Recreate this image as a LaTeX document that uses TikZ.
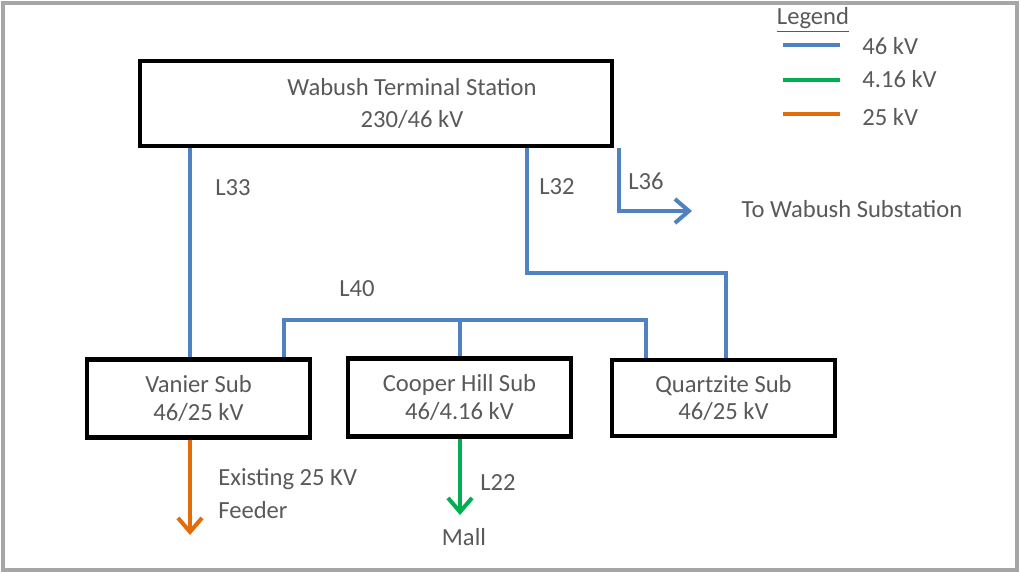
\documentclass[tikz,border=0pt]{standalone}
\usepackage{fontspec}
\setmainfont{Carlito}
\usetikzlibrary{arrows.meta,positioning,calc}
\definecolor{line46}{HTML}{5081C0}
\definecolor{line416}{HTML}{00B050}
\definecolor{line25}{HTML}{E36C0A}
\definecolor{txtgray}{HTML}{595959}
\definecolor{framegray}{HTML}{A6A6A6}

\begin{document}
\begin{tikzpicture}[>={Straight Barb[length=2.8mm,width=4.8mm]},
    font=\fontsize{14}{15.4}\selectfont, text=txtgray,
    station/.style={rectangle, draw=black, line width=2.4pt, fill=white, minimum width=4.46cm, minimum height=1.56cm, align=center},
    kv46/.style={line width=2.3pt, line46},
    kv416/.style={line width=2.3pt, line416},
    kv25/.style={line width=2.3pt, line25},
    tag/.style={inner sep=0pt}]
      \useasboundingbox (0,0) rectangle (20.4,-11.46);
      % Frame
      \draw[framegray, line width=2pt] (0.06,-0.06) rectangle (20.34,-11.4);

      % Terminal station
      \node[station, minimum width=9.44cm, minimum height=1.7cm, label={[xshift=0.72cm, align=center, font=\fontsize{14}{18.4}\selectfont, text=txtgray]center:Wabush Terminal Station\\230/46 kV}] (terminal) at (7.52,-2.07) {};

      % Substations
      \node[station] (vanier) at (3.97,-7.97) {Vanier Sub\\46/25 kV};
      \node[station] (cooper) at (9.19,-7.95) {Cooper Hill Sub\\46/4.16 kV};
      \node[station, minimum height=1.52cm] (quartzite) at (14.47,-7.96) {Quartzite Sub\\46/25 kV};

      % Bends and free ends
      \coordinate (l32a) at (10.54,-5.46);
      \coordinate (l32b) at (14.52,-5.46);
      \coordinate (l36a) at (12.38,-4.22);
      \coordinate (l36end) at (13.84,-4.22);
      \coordinate (l40a) at (5.68,-6.4);
      \coordinate (l40b) at (9.2,-6.4);
      \coordinate (l40c) at (12.92,-6.4);
      \coordinate (feederend) at (3.8,-10.7);
      \coordinate (mallend) at (9.2,-10.3);

      % 46 kV lines
      \draw[kv46] (terminal.south -| 3.8,0) -- (vanier.north -| 3.8,0);
      \draw[kv46] (terminal.south -| l32a) -- (l32a) -- (l32b) -- (quartzite.north -| l32b);
      \draw[kv46, ->] (terminal.south -| l36a) -- (l36a) -- (l36end);
      \draw[kv46] (vanier.north -| l40a) -- (l40a) -- (l40c) -- (quartzite.north -| l40c);
      \draw[kv46] (l40b) -- (cooper.north -| l40b);

      % Feeders
      \draw[kv25, ->] (vanier.south -| feederend) -- (feederend);
      \draw[kv416, ->] (cooper.south -| mallend) -- (mallend);

      % Line labels
      \node[tag] (lbl33) at (4.66,-3.76) {L33};
      \node[tag] (lbl32) at (11.14,-3.74) {L32};
      \node[tag] (lbl36) at (12.92,-3.62) {L36};
      \node[tag] (lbl40) at (7.14,-5.78) {L40};
      \node[tag] (lbl22) at (9.96,-9.66) {L22};
      \node[tag] (towabush) at (17.04,-4.18) {To Wabush Substation};
      \node[tag, anchor=west, align=left, font=\fontsize{14}{18.7}\selectfont] (feeder) at (4.36,-9.87) {Existing 25 KV\\Feeder};
      \node[tag] (mall) at (9.28,-10.74) {Mall};

      % Legend
      \node[tag] (legend) at (16.26,-0.4) {\underline{Legend}};
      \draw[kv46] (15.66,-0.9) -- (16.8,-0.9);
      \draw[kv416] (15.66,-1.6) -- (16.8,-1.6);
      \draw[kv25] (15.66,-2.28) -- (16.8,-2.28);
      \node[tag, anchor=west] (leg46) at (17.24,-0.92) {46 kV};
      \node[tag, anchor=west] (leg416) at (17.24,-1.58) {4.16 kV};
      \node[tag, anchor=west] (leg25) at (17.24,-2.34) {25 kV};
    \end{tikzpicture}
\end{document}
